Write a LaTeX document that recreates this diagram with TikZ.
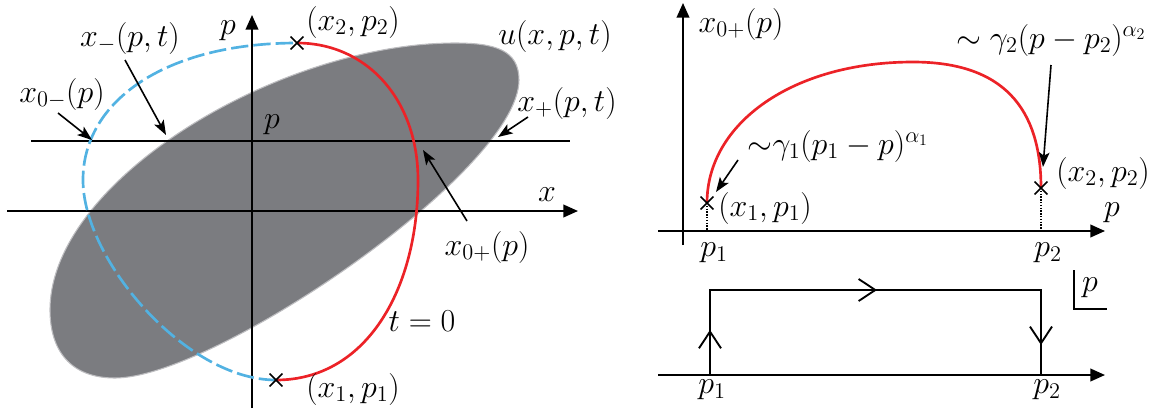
\RequirePackage{fix-cm}
\documentclass[tikz,border=0pt]{standalone}
\usetikzlibrary{arrows.meta,shapes.misc,decorations.markings}
\definecolor{ellgray}{RGB}{123,124,128}
\definecolor{ellrim}{RGB}{190,190,193}
\definecolor{curvered}{RGB}{236,34,39}
\definecolor{curveblue}{RGB}{82,178,226}
\begin{document}
\begin{tikzpicture}[x=0.75pt,y=-0.75pt,
  font=\fontsize{24}{28}\selectfont,
  axisline/.style={line width=1.4pt,-{Triangle[length=11pt,width=9.5pt]}},
  plainline/.style={line width=1.4pt},
  annot/.style={line width=1.2pt,-{Stealth[length=11pt,width=8pt,inset=2.5pt]}},
  redc/.style={curvered,line width=2pt},
  bluec/.style={curveblue,line width=2pt,dash pattern=on 13pt off 3.8pt},
  xmarker/.style={cross out,draw,line width=1.1pt,inner sep=0pt,minimum size=8.5pt},
  lbl/.style={inner sep=0pt},
  chev/.tip={Straight Barb[length=12.5pt,width=16.5pt,line width=1.4pt]}]
\useasboundingbox (0,0) rectangle (1159,408);

% ---------------- left panel ----------------
\fill[ellgray,draw=ellrim,line width=0.8pt]
  (519,80) .. controls (519,50) and (495,43) .. (455,43)
  .. controls (280,43) and (50,180) .. (50,310)
  .. controls (50,350) and (70,378) .. (115,378)
  .. controls (215,378) and (519,170) .. cycle;

\coordinate (pax0) at (252,408);
\coordinate (pax1) at (252,15);
\coordinate (xax0) at (7,211);
\coordinate (xax1) at (578,211);
\coordinate (pl0) at (31,141);
\coordinate (pl1) at (570,141);
\draw[axisline] (pax0) -- (pax1);
\draw[axisline] (xax0) -- (xax1);
\draw[plainline] (pl0) -- (pl1);

\coordinate (e1) at (276,380);
\coordinate (e2) at (297,43);
\coordinate (lm) at (83,180);
\coordinate (rm) at (418,180);
\draw[bluec] (e1) .. controls (186,380) and (83,260) .. (lm)
  .. controls (83,100) and (167,43) .. (e2);
\draw[redc] (e2) .. controls (367,43) and (418,100) .. (rm)
  .. controls (418,290) and (366,380) .. (e1);

\node[xmarker] (m2) at (e2) {};
\node[xmarker] (m1) at (e1) {};

\node[lbl] (lp) at (228,31) {$p$};
\node[lbl] (lx) at (547,195) {$x$};
\node[lbl] (lpl) at (272,125) {$p$};
\node[lbl] (lx2) at (353,22) {$(x_2,p_2)$};
\node[lbl] (lu) at (555,36) {$u(x,p,t)$};
\node[lbl] (lxm) at (130,38) {$x_-(p,t)$};
\node[lbl] (lx0m) at (62,94) {$x_{0-}(p)$};
\node[lbl] (lxp) at (567,103) {$x_+(p,t)$};
\node[lbl] (lx0p) at (487,247) {$x_{0+}(p)$};
\node[lbl] (lt) at (422,321) {$t=0$};
\node[lbl] (lx1) at (353,389) {$(x_1,p_1)$};

\coordinate (a1s) at (58,113);  \coordinate (a1e) at (92,140);
\coordinate (a2s) at (125,60);  \coordinate (a2e) at (166,135);
\coordinate (a3s) at (528,117); \coordinate (a3e) at (498,137);
\coordinate (a4s) at (467,221); \coordinate (a4e) at (423,150);
\draw[annot] (a1s) -- (a1e);
\draw[annot] (a2s) -- (a2e);
\draw[annot] (a3s) -- (a3e);
\draw[annot] (a4s) -- (a4e);

% ---------------- right panel, top ----------------
\coordinate (ra0) at (683,245);
\coordinate (ra1) at (683,3);
\coordinate (rb0) at (658,231);
\coordinate (rb1) at (1105,231);
\draw[axisline] (ra0) -- (ra1);
\draw[axisline] (rb0) -- (rb1);

\coordinate (q1) at (707,203);
\coordinate (q2) at (1041,188);
\coordinate (qt) at (913,62);
\coordinate (q1b) at (707,231);
\coordinate (q2b) at (1041,231);
\draw[densely dotted,line width=1.1pt] (q1) -- (q1b);
\draw[densely dotted,line width=1.1pt] (q2) -- (q2b);

\draw[redc] (q1) .. controls (707,123) and (793,62) .. (qt)
  .. controls (1003,62) and (1041,108) .. (q2);
\node[xmarker] (r1) at (q1) {};
\node[xmarker] (r2) at (q2) {};

\node[lbl] (rlx) at (741,24) {$x_{0+}(p)$};
\node[lbl] (rg2) at (1051,40) {$\sim\gamma_2(p-p_2)^{\alpha_2}$};
\node[lbl] (rg1) at (838,146) {$\mathord{\sim}\gamma_1(p_1-p)^{\alpha_1}$};
\node[lbl] (rx1) at (765,208) {$(x_1,p_1)$};
\node[lbl] (rx2) at (1103,173) {$(x_2,p_2)$};
\node[lbl] (rp) at (1112,213) {$p$};
\node[lbl] (rp1) at (714,253) {$p_1$};
\node[lbl] (rp2) at (1048,253) {$p_2$};

\coordinate (b1s) at (738,160);  \coordinate (b1e) at (716,192);
\coordinate (b2s) at (1051,65);  \coordinate (b2e) at (1043,167);
\draw[annot] (b1s) -- (b1e);
\draw[annot] (b2s) -- (b2e);

% ---------------- right panel, bottom ----------------
\coordinate (ca0) at (658,375);
\coordinate (ca1) at (1105,375);
\draw[axisline] (ca0) -- (ca1);

\coordinate (c1) at (710,375);
\coordinate (c2) at (710,290);
\coordinate (c3) at (1041,290);
\coordinate (c4) at (1041,375);
\draw[plainline,postaction={decorate},decoration={markings,
  mark=at position 0.09 with {\arrow{chev}},
  mark=at position 0.503 with {\arrow{chev}},
  mark=at position 0.94 with {\arrow{chev}}}]
  (c1) -- (c2) -- (c3) -- (c4);

\coordinate (k1) at (1074,270);
\coordinate (k2) at (1074,309);
\coordinate (k3) at (1107,309);
\draw[line width=1.2pt] (k1) -- (k2) -- (k3);
\node[lbl] (kp) at (1090,288) {$p$};

\node[lbl] (cp1) at (712,390) {$p_1$};
\node[lbl] (cp2) at (1047,390) {$p_2$};
\end{tikzpicture}
\end{document}
